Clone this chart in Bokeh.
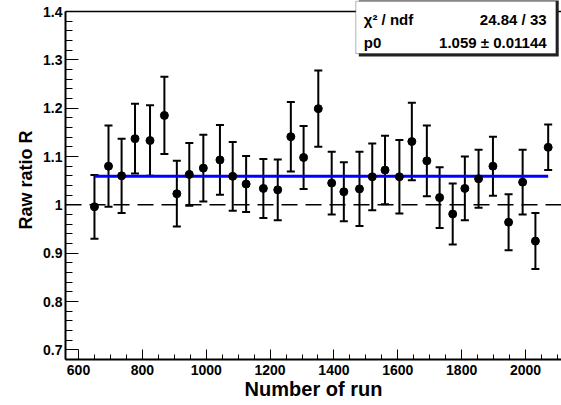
import numpy as np
from bokeh.plotting import figure
from bokeh.models import (ColumnDataSource, Whisker, TeeHead, Span, FixedTicker,
                          Range1d, Label, BoxAnnotation)
from bokeh.embed import file_html
from bokeh.resources import INLINE

# ---- data ----
runs = [650, 694, 735, 777, 824, 869, 908, 947, 991, 1043, 1083, 1125, 1179, 1224,
        1265, 1305, 1351, 1393, 1431, 1480, 1520, 1560, 1605, 1644, 1691, 1731,
        1772, 1810, 1853, 1898, 1947, 1991, 2031, 2071]
ratio = [0.996, 1.080, 1.060, 1.137, 1.133, 1.185, 1.023, 1.063, 1.076, 1.093,
         1.059, 1.043, 1.034, 1.031, 1.141, 1.098, 1.199, 1.045, 1.027, 1.033,
         1.058, 1.072, 1.058, 1.131, 1.091, 1.015, 0.981, 1.034, 1.054, 1.080,
         0.964, 1.047, 0.925, 1.119]
err = [0.066, 0.084, 0.077, 0.072, 0.073, 0.080, 0.068, 0.065, 0.069, 0.072,
       0.071, 0.058, 0.061, 0.063, 0.072, 0.065, 0.079, 0.065, 0.061, 0.077,
       0.069, 0.071, 0.076, 0.080, 0.073, 0.063, 0.063, 0.066, 0.060, 0.061,
       0.058, 0.067, 0.058, 0.047]

fit_p0 = 1.059
fit_p0_err = 0.01144
chi2 = 24.84
ndf = 33

x_ticks = [600, 800, 1000, 1200, 1400, 1600, 1800, 2000]
y_ticks = [0.7, 0.8, 0.9, 1.0, 1.1, 1.2, 1.3, 1.4]
y_tick_labels = ["0.7", "0.8", "0.9", "1", "1.1", "1.2", "1.3", "1.4"]

x_title = "Number of run"
y_title = "Raw ratio R"

FONT = "Liberation Sans"

# axis extent of the histogram frame
y_lo, y_hi = 0.68, 1.40
x0, x1 = 559.3, 2112.7
# the plotting area reaches a little above the frame top so the stats box fits
y1 = 1.4228

p = figure(width=561, height=405, output_backend="svg", toolbar_location=None,
           x_range=Range1d(x0, x1), y_range=Range1d(y_lo, y1),
           min_border_left=65, min_border_right=0, min_border_top=0,
           min_border_bottom=46)
p.title.visible = False
p.background_fill_color = "white"
p.border_fill_color = "white"
p.grid.visible = False
p.outline_line_color = None

# axes
p.xaxis.ticker = FixedTicker(ticks=x_ticks,
                             minor_ticks=list(np.arange(550, 2150, 50)))
p.yaxis.ticker = FixedTicker(ticks=y_ticks,
                             minor_ticks=list(np.round(np.arange(0.68, 1.401, 0.02), 2)))
p.yaxis.major_label_overrides = {t: l for t, l in zip(y_ticks, y_tick_labels)}
p.yaxis.bounds = (y_lo, y_hi)
for ax in (p.xaxis[0], p.yaxis[0]):
    ax.axis_line_width = 2
    ax.axis_line_color = "black"
    ax.major_tick_out = 0
    ax.minor_tick_out = 0
    ax.major_tick_line_color = "black"
    ax.minor_tick_line_color = "black"
    ax.major_tick_line_width = 1
    ax.minor_tick_line_width = 1
    ax.major_label_text_font = FONT
    ax.major_label_text_font_style = "bold"
    ax.major_label_text_font_size = "14px"
    ax.major_label_text_color = "black"
    ax.axis_label_text_font = FONT
    ax.axis_label_text_font_style = "bold"
    ax.axis_label_text_color = "black"
p.xaxis.major_tick_in = 10
p.xaxis.minor_tick_in = 5
p.yaxis.major_tick_in = 13
p.yaxis.minor_tick_in = 7
p.xaxis.major_label_standoff = 5
p.yaxis.major_label_standoff = 3

p.yaxis.axis_label = y_title
p.yaxis.axis_label_text_font_size = "18px"
p.yaxis.axis_label_standoff = 4

p.xaxis.axis_label = x_title
p.xaxis.axis_label_text_font_size = "20px"
p.xaxis.axis_label_standoff = 0

# frame top line
p.add_layout(Span(location=y_hi, dimension="width", line_color="black",
                  line_width=1.5))

# dashed reference line at 1
p.add_layout(Span(location=1.0, dimension="width", line_color="black",
                  line_width=1.5, line_dash="16 8"))

# fit line
p.line(x=[runs[0], runs[-1]], y=[fit_p0, fit_p0], line_color="#0000ff",
       line_width=3)

# data with error bars
lower = [r - e for r, e in zip(ratio, err)]
upper = [r + e for r, e in zip(ratio, err)]
src = ColumnDataSource(dict(x=runs, y=ratio, lower=lower, upper=upper))
p.add_layout(Whisker(source=src, base="x", lower="lower", upper="upper",
                     line_color="black", line_width=2,
                     upper_head=TeeHead(size=8, line_width=2, line_color="black"),
                     lower_head=TeeHead(size=8, line_width=2, line_color="black")))
p.scatter(x="x", y="y", source=src, size=8, marker="circle",
          fill_color="black", line_color="black")

# stats box (with shadow)
p.add_layout(BoxAnnotation(left=1478, right=2104, bottom=1.3067, top=1.44,
                           fill_color="#222222", fill_alpha=1.0,
                           line_color=None))
p.add_layout(BoxAnnotation(left=1468.5, right=2095, bottom=1.313, top=1.4215,
                           fill_color="white", fill_alpha=1.0,
                           line_color="black", line_width=1))

stat_left = ["\u03c7\u00b2 / ndf", "p0"]
stat_right = [f"{chi2:.2f} / {ndf}", f"{fit_p0:.3f} \u00b1 {fit_p0_err:.5f}"]
stat_y = [1.383, 1.336]
for lt, rt, yy in zip(stat_left, stat_right, stat_y):
    p.add_layout(Label(x=1493.5, y=yy, text=lt, text_font=FONT,
                       text_font_style="bold", text_font_size="15px",
                       text_align="left", text_baseline="middle",
                       text_color="black"))
    p.add_layout(Label(x=2066, y=yy, text=rt, text_font=FONT,
                       text_font_style="bold", text_font_size="15px",
                       text_align="right", text_baseline="middle",
                       text_color="black"))

open("out.html", "w").write(file_html(p, INLINE))
